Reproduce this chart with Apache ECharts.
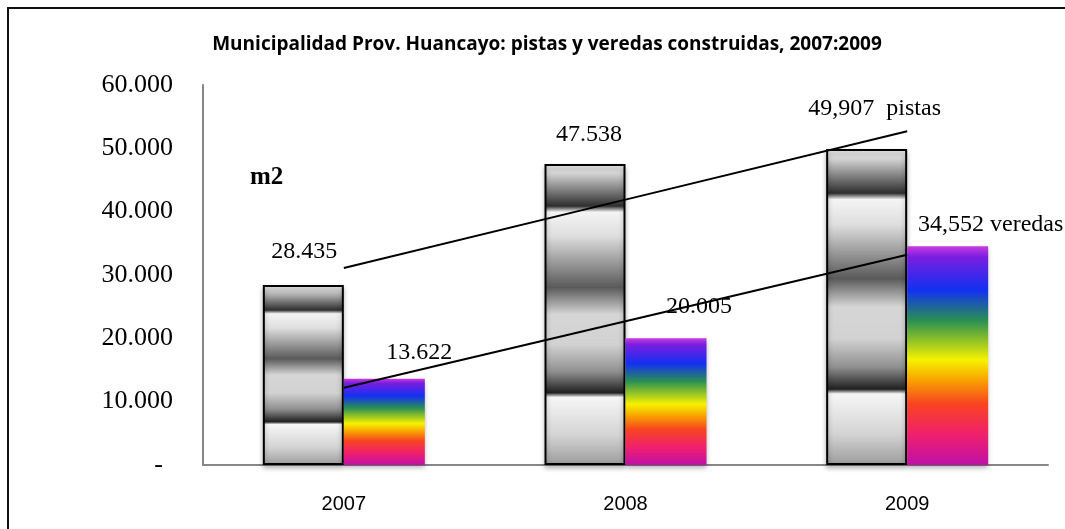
<!DOCTYPE html>
<html>
<head>
<meta charset="utf-8">
<script src="https://cdn.jsdelivr.net/npm/echarts@6/dist/echarts.min.js"></script>
<style>
  html, body { margin: 0; padding: 0; background: #fff; }
  #chart { width: 1065px; height: 529px; }
</style>
</head>
<body>
<div id="chart"></div>
<script>
// datos
var years = ['2007', '2008', '2009'];
var pistas = [28435, 47538, 49907];
var veredas = [13622, 20005, 34552];
var pistasLabels = ['28.435', '47.538', '49,907  pistas'];
var veredasLabels = ['13.622', '20.005', '34,552 veredas'];
// lineas de tendencia
var pistasTrend = [31100, 41900, 52700];
var veredasTrend = [12200, 22700, 33200];
var yTicks = [0, 10000, 20000, 30000, 40000, 50000, 60000];

var chart = echarts.init(document.getElementById('chart'));

var grayBar = new echarts.graphic.LinearGradient(0, 0, 0, 1, [
  { offset: 0, color: '#f0f0f0' },
  { offset: 0.03, color: '#d6d6d6' },
  { offset: 0.14, color: '#2e2e2e' },
  { offset: 0.16, color: '#f4f4f4' },
  { offset: 0.24, color: '#dedede' },
  { offset: 0.41, color: '#5a5a5a' },
  { offset: 0.5, color: '#d6d6d6' },
  { offset: 0.6, color: '#d2d2d2' },
  { offset: 0.69, color: '#909090' },
  { offset: 0.76, color: '#202020' },
  { offset: 0.775, color: '#f6f6f6' },
  { offset: 0.9, color: '#d4d4d4' },
  { offset: 1, color: '#9c9c9c' }
]);

var rainbowBar = new echarts.graphic.LinearGradient(0, 0, 0, 1, [
  { offset: 0, color: '#c83ce0' },
  { offset: 0.05, color: '#7a1ee0' },
  { offset: 0.2, color: '#1230f2' },
  { offset: 0.34, color: '#2a9052' },
  { offset: 0.52, color: '#f6f200' },
  { offset: 0.61, color: '#f8a400' },
  { offset: 0.72, color: '#f84420' },
  { offset: 0.86, color: '#f0206c' },
  { offset: 1, color: '#c010a8' }
]);

var pistasOffsets = [[1, -16], [4, -12], [8, -23]];
var veredasOffsets = [[35, -9], [33, -15], [43, -4]];

function barData(values, labels, offsets) {
  return values.map(function (v, i) {
    return {
      value: v,
      label: { formatter: labels[i], offset: offsets[i] }
    };
  });
}

var labelStyle = {
  show: true,
  position: 'top',
  fontFamily: 'Liberation Serif',
  fontSize: 24,
  color: '#000'
};

var option = {
  animation: false,
  backgroundColor: '#fff',
  title: {
    text: 'Municipalidad Prov. Huancayo: pistas y veredas construidas, 2007:2009',
    left: 542,
    top: 30,
    textAlign: 'center',
    textStyle: {
      fontFamily: 'Open Sans',
      fontWeight: 'bold',
      fontSize: 19,
      color: '#000'
    }
  },
  graphic: [
    {
      type: 'rect',
      shape: { x: 8, y: 8, width: 1200, height: 700 },
      style: { fill: 'none', stroke: '#111', lineWidth: 2 },
      silent: true
    },
    {
      type: 'text',
      left: 250,
      top: 165,
      style: {
        text: 'm2',
        fontFamily: 'Liberation Serif',
        fontWeight: 'bold',
        fontSize: 25,
        fill: '#000'
      }
    }
  ],
  grid: { left: 203, right: 17, top: 85, bottom: 64 },
  xAxis: {
    type: 'category',
    data: years,
    axisLine: { lineStyle: { color: '#868686', width: 2 } },
    axisTick: { show: false },
    axisLabel: {
      margin: 29,
      fontFamily: 'Liberation Sans',
      fontSize: 20,
      color: '#000'
    }
  },
  yAxis: {
    type: 'value',
    min: 0,
    max: 60000,
    interval: 10000,
    axisLine: { show: true, lineStyle: { color: '#868686', width: 2 } },
    axisTick: { show: false },
    splitLine: { show: false },
    axisLabel: {
      margin: 30,
      fontFamily: 'Liberation Serif',
      fontSize: 26,
      color: '#000',
      formatter: function (v) {
        if (yTicks.indexOf(v) < 0) return '';
        if (v === 0) return '{d|-}';
        return (v / 1000).toFixed(0) + '.000';
      },
      rich: {
        d: { fontFamily: 'Liberation Serif', fontSize: 26, padding: [0, 10, 0, 0] }
      }
    }
  },
  series: [
    {
      name: 'pistas',
      type: 'bar',
      barWidth: 81,
      barGap: '0%',
      data: barData(pistas, pistasLabels, pistasOffsets),
      itemStyle: {
        color: grayBar,
        borderColor: '#000',
        borderWidth: 2,
        shadowColor: 'rgba(0,0,0,0.3)',
        shadowBlur: 5,
        shadowOffsetY: 3
      },
      label: labelStyle,
      z: 2
    },
    {
      name: 'veredas',
      type: 'bar',
      barWidth: 81,
      barGap: '0%',
      data: barData(veredas, veredasLabels, veredasOffsets),
      itemStyle: {
        color: rainbowBar,
        shadowColor: 'rgba(0,0,0,0.3)',
        shadowBlur: 5,
        shadowOffsetY: 3
      },
      label: labelStyle,
      z: 2
    },
    {
      name: 'tendencia pistas',
      type: 'line',
      data: pistasTrend,
      symbol: 'none',
      lineStyle: { color: '#000', width: 2 },
      z: 5
    },
    {
      name: 'tendencia veredas',
      type: 'line',
      data: veredasTrend,
      symbol: 'none',
      lineStyle: { color: '#000', width: 2 },
      z: 5
    }
  ]
};

chart.setOption(option);
</script>
</body>
</html>
